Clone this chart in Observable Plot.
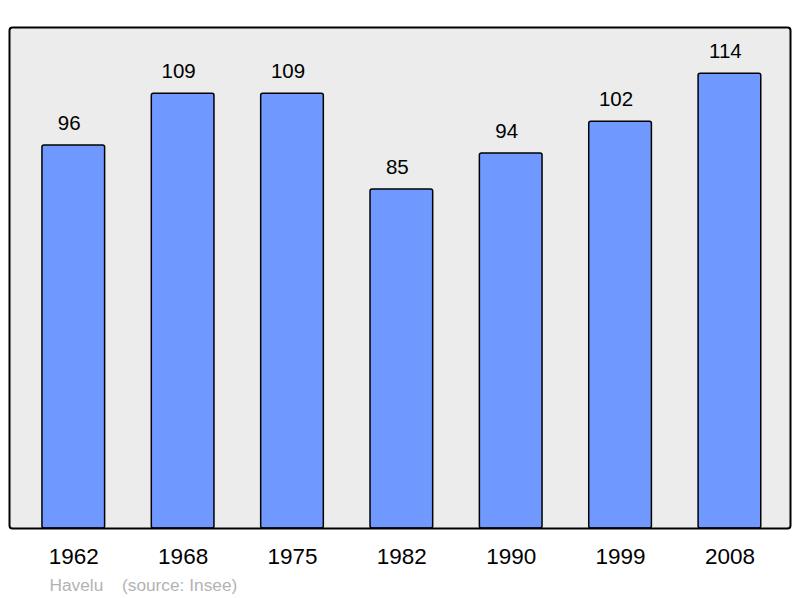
<!DOCTYPE html>
<html>
<head>
<meta charset="utf-8">
<script src="https://cdn.jsdelivr.net/npm/d3@7"></script>
<script src="https://cdn.jsdelivr.net/npm/@observablehq/plot@0.6"></script>
<style>
  html, body { margin: 0; padding: 0; background: #ffffff; }
  svg { display: block; }
</style>
</head>
<body>
<div id="chart"></div>
<script>
const years = ["1962", "1968", "1975", "1982", "1990", "1999", "2008"];
const population = [96, 109, 109, 85, 94, 102, 114];
const captionAuthor = ["Havelu"];
const captionSource = ["(source: Insee)"];

const data = years.map((year, i) => ({year, value: population[i]}));

const chart = Plot.plot({
  width: 800,
  height: 598,
  marginLeft: 9,
  marginRight: 10,
  marginTop: 27,
  marginBottom: 70,
  style: {fontFamily: "'Liberation Sans', Arial, sans-serif", background: "#ffffff"},
  x: {domain: years, range: [18.6, 784.1], paddingInner: 0.427, paddingOuter: 0.2135, align: 0.5, round: false, label: null},
  y: {domain: [0, 125.6], range: [528, 27], axis: null},
  marks: [
    Plot.frame({fill: "#ececec", stroke: "none"}),
    Plot.barY(data, {x: "year", y: "value", fill: "#7099ff", stroke: "#000000", strokeWidth: 1.5, rx: 2}),
    Plot.text(data, {x: "year", y: "value", text: d => String(d.value), dx: -4.5, dy: -22, fontSize: 20.5, fill: "#000000", lineAnchor: "middle"}),
    Plot.frame({stroke: "#000000", strokeWidth: 2, rx: 3}),
    Plot.axisX({tickSize: 0, tickPadding: 20, fontSize: 22.5, color: "#000000", label: null}),
    Plot.text(captionAuthor, {frameAnchor: "bottom-left", text: d => d, dx: 40, dy: 57, fontSize: 17.3, fill: "#b3b3b3", textAnchor: "start", lineAnchor: "middle"}),
    Plot.text(captionSource, {frameAnchor: "bottom-left", text: d => d, dx: 112.5, dy: 57, fontSize: 17.3, fill: "#b3b3b3", textAnchor: "start", lineAnchor: "middle"})
  ]
});
document.getElementById("chart").appendChild(chart);
</script>
</body>
</html>
